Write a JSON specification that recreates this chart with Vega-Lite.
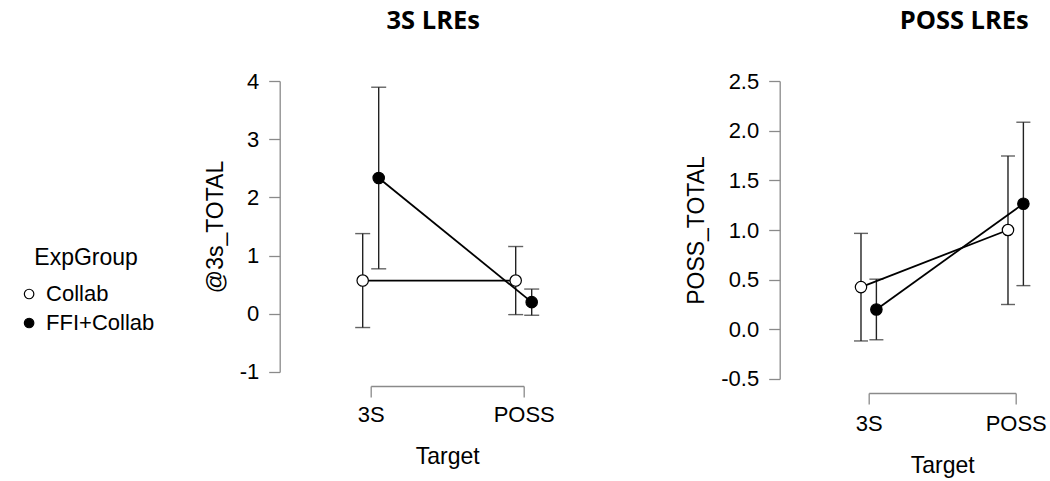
{
  "$schema": "https://vega.github.io/schema/vega-lite/v6.json",
  "background": "white",
  "padding": {"left": 17.7, "right": 5, "top": 8, "bottom": 5},
  "config": {
    "view": {"stroke": null},
    "font": "Liberation Sans",
    "axis": {
      "grid": false,
      "domainColor": "#8a8a8a",
      "tickColor": "#8a8a8a",
      "domainWidth": 1.3,
      "tickWidth": 1.3,
      "tickSize": 11,
      "labelColor": "black",
      "titleColor": "black",
      "labelFont": "Liberation Sans",
      "titleFont": "Liberation Sans",
      "labelFontSize": 22,
      "titleFontSize": 23,
      "titleFontWeight": "normal"
    },
    "axisY": {"labelExpr": "replace(datum.label, '\u2212', '-')"},
    "title": {"font": "Open Sans", "fontSize": 25.5, "fontWeight": "bold", "color": "black", "anchor": "middle"}
  },
  "datasets": {
    "lre3s": [
      {"Target": "3S", "ExpGroup": "Collab", "mean": 0.571, "lower": -0.236, "upper": 1.378},
      {"Target": "3S", "ExpGroup": "FFI+Collab", "mean": 2.333, "lower": 0.773, "upper": 3.893},
      {"Target": "POSS", "ExpGroup": "Collab", "mean": 0.571, "lower": -0.014, "upper": 1.156},
      {"Target": "POSS", "ExpGroup": "FFI+Collab", "mean": 0.2, "lower": -0.025, "upper": 0.425}
    ],
    "lreposs": [
      {"Target": "3S", "ExpGroup": "Collab", "mean": 0.425, "lower": -0.117, "upper": 0.966},
      {"Target": "3S", "ExpGroup": "FFI+Collab", "mean": 0.2, "lower": -0.105, "upper": 0.505},
      {"Target": "POSS", "ExpGroup": "Collab", "mean": 1.0, "lower": 0.25, "upper": 1.745},
      {"Target": "POSS", "ExpGroup": "FFI+Collab", "mean": 1.265, "lower": 0.44, "upper": 2.085}
    ]
  },
  "spacing": 131,
  "resolve": {"scale": {"x": "independent", "y": "independent", "xOffset": "independent"}, "legend": {"fill": "independent"}},
  "hconcat": [
    {
      "width": 153,
      "height": 291,
      "title": {"text": "3S LREs", "dx": -14, "baseline": "alphabetic", "offset": 16},
      "data": {"name": "lre3s"},
      "encoding": {
        "x": {"field": "Target", "type": "nominal", "scale": {"type": "point", "padding": 0},
              "axis": {"title": "Target", "labelAngle": 0, "offset": 14, "labelPadding": 8, "titlePadding": 20}},
        "xOffset": {"field": "ExpGroup", "type": "nominal", "scale": {"type": "point", "padding": 0, "range": [-8, 8]}}
      },
      "layer": [
        {
          "mark": {"type": "rule", "color": "#222222", "strokeWidth": 1.4},
          "encoding": {
            "y": {"field": "lower", "type": "quantitative", "scale": {"domain": [-1, 4], "nice": false, "zero": false},
                  "axis": {"title": "@3s_TOTAL", "values": [-1, 0, 1, 2, 3, 4], "offset": 91, "labelPadding": 10, "titlePadding": 12}},
            "y2": {"field": "upper"}
          }
        },
        {
          "mark": {"type": "tick", "orient": "horizontal", "color": "#222222", "size": 15, "thickness": 1.4},
          "encoding": {"y": {"field": "upper", "type": "quantitative",
                  "axis": {"title": "@3s_TOTAL", "values": [-1, 0, 1, 2, 3, 4], "offset": 91, "labelPadding": 10, "titlePadding": 12}}}
        },
        {
          "mark": {"type": "tick", "orient": "horizontal", "color": "#222222", "size": 15, "thickness": 1.4},
          "encoding": {"y": {"field": "lower", "type": "quantitative",
                  "axis": {"title": "@3s_TOTAL", "values": [-1, 0, 1, 2, 3, 4], "offset": 91, "labelPadding": 10, "titlePadding": 12}}}
        },
        {
          "mark": {"type": "line", "color": "black", "strokeWidth": 1.8},
          "encoding": {"y": {"field": "mean", "type": "quantitative",
                  "axis": {"title": "@3s_TOTAL", "values": [-1, 0, 1, 2, 3, 4], "offset": 91, "labelPadding": 10, "titlePadding": 12}},
                  "detail": {"field": "ExpGroup"}}
        },
        {
          "mark": {"type": "point", "filled": true, "opacity": 1, "size": 130, "stroke": "black", "strokeWidth": 1.2, "shape": "circle"},
          "encoding": {
            "y": {"field": "mean", "type": "quantitative",
                  "axis": {"title": "@3s_TOTAL", "values": [-1, 0, 1, 2, 3, 4], "offset": 91, "labelPadding": 10, "titlePadding": 12}},
            "fill": {"field": "ExpGroup", "type": "nominal",
                     "scale": {"domain": ["Collab", "FFI+Collab"], "range": ["white", "black"]},
                     "legend": {"orient": "none", "legendX": -352.6, "legendY": 166, "title": "ExpGroup",
                                "titleAnchor": "middle", "titleFont": "Liberation Sans", "titleFontSize": 23,
                                "titleFontWeight": "normal", "titleColor": "black", "titlePadding": 13,
                                "labelFont": "Liberation Sans", "labelFontSize": 22, "labelColor": "black",
                                "labelOffset": 6, "rowPadding": 7, "symbolType": "circle", "symbolSize": 90,
                                "symbolStrokeColor": "black", "symbolStrokeWidth": 1.2}}
          }
        }
      ]
    },
    {
      "width": 147,
      "height": 298,
      "title": {"text": "POSS LREs", "dx": 22, "baseline": "alphabetic", "offset": 16},
      "data": {"name": "lreposs"},
      "encoding": {
        "x": {"field": "Target", "type": "nominal", "scale": {"type": "point", "padding": 0},
              "axis": {"title": "Target", "labelAngle": 0, "offset": 14, "labelPadding": 10, "titlePadding": 20}},
        "xOffset": {"field": "ExpGroup", "type": "nominal", "scale": {"type": "point", "padding": 0, "range": [-7.7, 7.7]}}
      },
      "layer": [
        {
          "mark": {"type": "rule", "color": "#222222", "strokeWidth": 1.4},
          "encoding": {
            "y": {"field": "lower", "type": "quantitative", "scale": {"domain": [-0.5, 2.5], "nice": false, "zero": false},
                  "axis": {"title": "POSS_TOTAL", "values": [-0.5, 0, 0.5, 1, 1.5, 2, 2.5], "format": ".1f", "offset": 89, "labelPadding": 10, "titlePadding": 12}},
            "y2": {"field": "upper"}
          }
        },
        {
          "mark": {"type": "tick", "orient": "horizontal", "color": "#222222", "size": 14, "thickness": 1.4},
          "encoding": {"y": {"field": "upper", "type": "quantitative",
                  "axis": {"title": "POSS_TOTAL", "values": [-0.5, 0, 0.5, 1, 1.5, 2, 2.5], "format": ".1f", "offset": 89, "labelPadding": 10, "titlePadding": 12}}}
        },
        {
          "mark": {"type": "tick", "orient": "horizontal", "color": "#222222", "size": 14, "thickness": 1.4},
          "encoding": {"y": {"field": "lower", "type": "quantitative",
                  "axis": {"title": "POSS_TOTAL", "values": [-0.5, 0, 0.5, 1, 1.5, 2, 2.5], "format": ".1f", "offset": 89, "labelPadding": 10, "titlePadding": 12}}}
        },
        {
          "mark": {"type": "line", "color": "black", "strokeWidth": 1.8},
          "encoding": {"y": {"field": "mean", "type": "quantitative",
                  "axis": {"title": "POSS_TOTAL", "values": [-0.5, 0, 0.5, 1, 1.5, 2, 2.5], "format": ".1f", "offset": 89, "labelPadding": 10, "titlePadding": 12}},
                  "detail": {"field": "ExpGroup"}}
        },
        {
          "mark": {"type": "point", "filled": true, "opacity": 1, "size": 130, "stroke": "black", "strokeWidth": 1.2, "shape": "circle"},
          "encoding": {
            "y": {"field": "mean", "type": "quantitative",
                  "axis": {"title": "POSS_TOTAL", "values": [-0.5, 0, 0.5, 1, 1.5, 2, 2.5], "format": ".1f", "offset": 89, "labelPadding": 10, "titlePadding": 12}},
            "fill": {"field": "ExpGroup", "type": "nominal",
                     "scale": {"domain": ["Collab", "FFI+Collab"], "range": ["white", "black"]},
                     "legend": null}
          }
        }
      ]
    }
  ]
}
